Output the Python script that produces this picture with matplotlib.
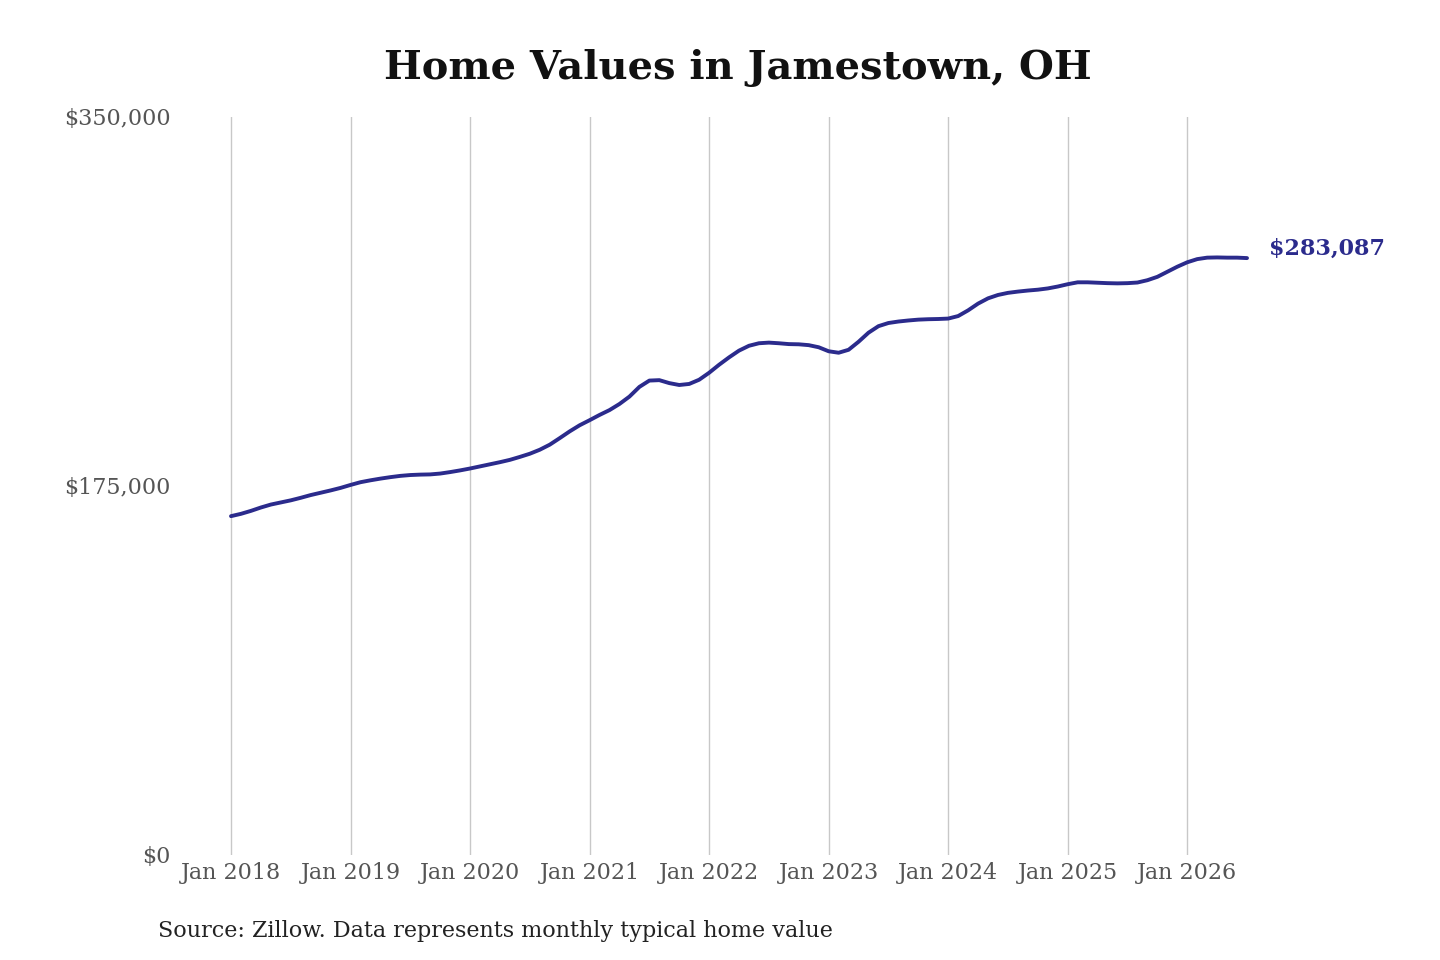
import matplotlib
matplotlib.use("Agg")
import matplotlib.pyplot as plt
from matplotlib.ticker import FuncFormatter

# monthly typical home value, Jan 2018 .. Jul 2026
values = [
    160700, 161800, 163200, 164800, 166200, 167200, 168200, 169400, 170700, 171800, 172900, 174100,  # 2018
    175500, 176800, 177700, 178500, 179200, 179800, 180200, 180400, 180500, 180900, 181600, 182400,  # 2019
    183300, 184300, 185300, 186300, 187400, 188800, 190300, 192200, 194600, 197700, 200900, 203800,  # 2020
    206200, 208700, 211000, 213900, 217400, 222000, 225000, 225200, 223800, 222900, 223400, 225400,  # 2021
    228700, 232500, 236000, 239200, 241500, 242700, 243000, 242700, 242300, 242200, 241800, 240800,  # 2022
    238900, 238200, 239600, 243400, 247700, 250800, 252300, 253000, 253500, 253900, 254100, 254200,  # 2023
    254400, 255600, 258300, 261500, 264000, 265600, 266600, 267200, 267700, 268100, 268700, 269600,  # 2024
    270700, 271600, 271600, 271400, 271200, 271100, 271200, 271500, 272600, 274200, 276600, 279000,  # 2025
    281100, 282600, 283300, 283400, 283300, 283300, 283087,                                          # 2026
]
months = list(range(len(values)))
tick_months = list(range(0, 97, 12))
tick_labels = [f"Jan {2018 + i}" for i in range(len(tick_months))]
y_ticks = [0, 175000, 350000]

plt.rcParams['font.family'] = ['DejaVu Serif']
LINE = '#2b2b8c'

fig = plt.figure(figsize=(14.4, 9.6), dpi=100)
ax = fig.add_axes([180 / 1440, 1 - 855 / 960, 1070 / 1440, 738 / 960])

ax.plot(months, values, color=LINE, lw=2.8, solid_capstyle='round', solid_joinstyle='round')
ax.set_xlim(-5.12, 102.3)
ax.set_ylim(0, 350000)

ax.set_xticks(tick_months)
ax.set_xticklabels(tick_labels)
ax.set_yticks(y_ticks)
ax.yaxis.set_major_formatter(FuncFormatter(lambda v, p: f"${v:,.0f}"))
ax.grid(axis='x', color='#c8c8c8', lw=1)
ax.set_axisbelow(True)
for s in ax.spines.values():
    s.set_visible(False)
ax.tick_params(length=0, labelsize=16, labelcolor='#555555')
ax.tick_params(axis='x', pad=5)
ax.tick_params(axis='y', pad=6.5)

ax.annotate(f"${values[-1]:,}", (months[-1], values[-1]), xytext=(16, 7),
            textcoords='offset points', va='center', ha='left',
            fontsize=16, fontweight='bold', color=LINE, annotation_clip=False)

fig.text(738 / 1440, 1 - 68 / 960, "Home Values in Jamestown, OH", ha='center', va='center',
         fontsize=28.8, fontweight='bold', color='#111111')
fig.text(158 / 1440, 1 - 931 / 960, "Source: Zillow. Data represents monthly typical home value",
         ha='left', va='center', fontsize=16, color='#222222')

fig.savefig("out.png", dpi=100, facecolor='white')
